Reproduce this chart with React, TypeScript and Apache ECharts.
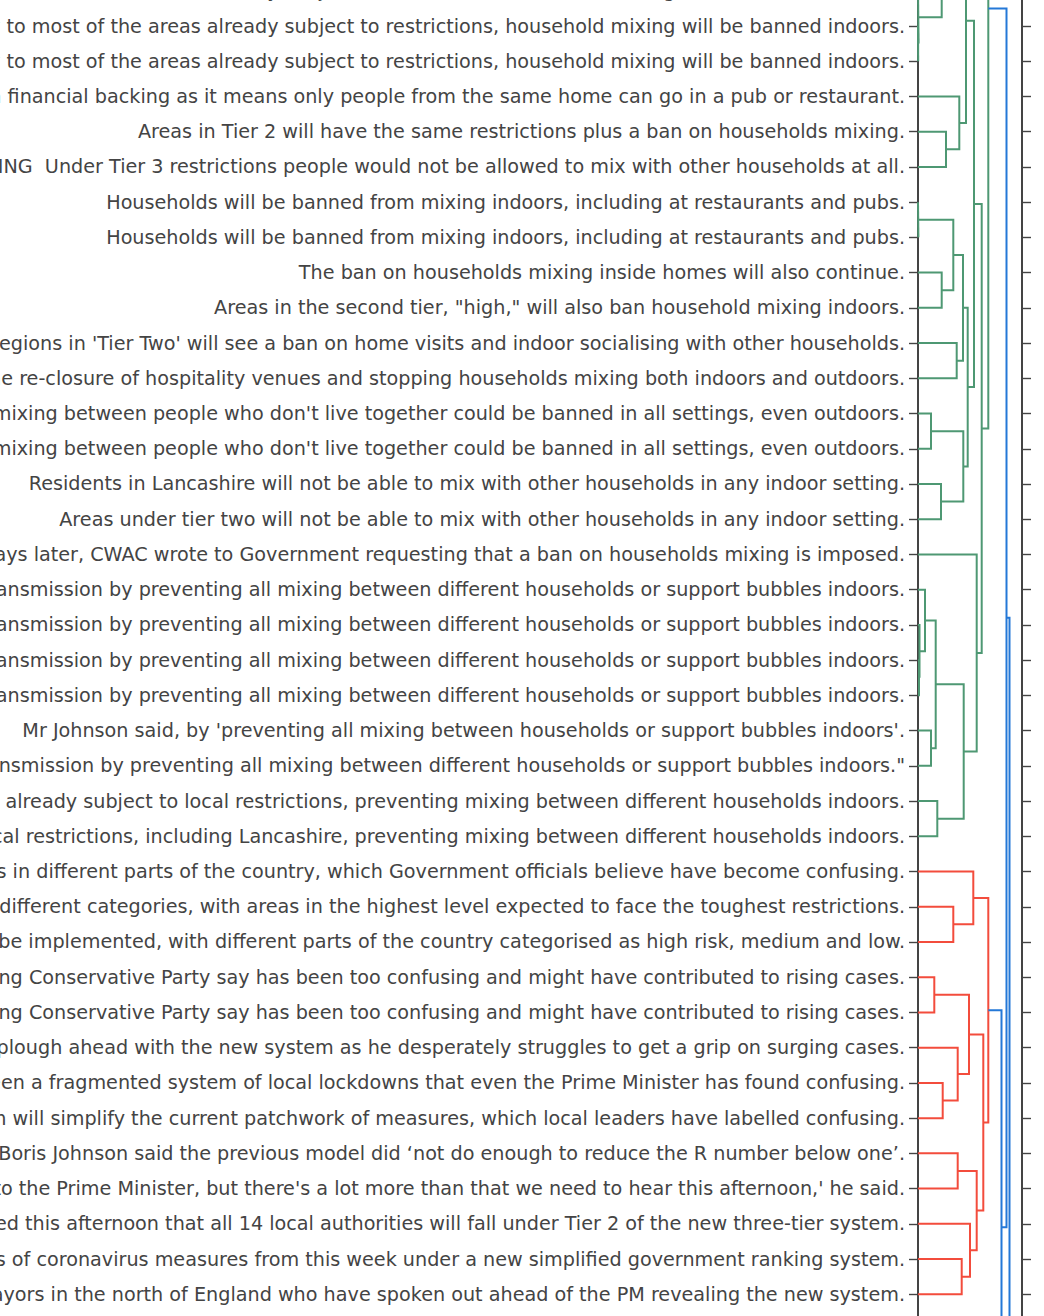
import React, { useEffect, useRef } from "react";
import * as echarts from "echarts";

// Leaf labels, top to bottom; first entry is row -1 (just above the visible window)
const firstLeafRow = -1;
const leafLabels: string[] = [
  "In the 'high' tier, which will apply to most of the areas already subject to restrictions, household mixing will be banned indoors.",
  "In the 'high' tier, which will apply to most of the areas already subject to restrictions, household mixing will be banned indoors.",
  "In the 'high' tier, which will apply to most of the areas already subject to restrictions, household mixing will be banned indoors.",
  "The top tier will be given financial backing as it means only people from the same home can go in a pub or restaurant.",
  "Areas in Tier 2 will have the same restrictions plus a ban on households mixing.",
  "LOCAL LOCKDOWN WARNING  Under Tier 3 restrictions people would not be allowed to mix with other households at all.",
  "Households will be banned from mixing indoors, including at restaurants and pubs.",
  "Households will be banned from mixing indoors, including at restaurants and pubs.",
  "The ban on households mixing inside homes will also continue.",
  "Areas in the second tier, \"high,\" will also ban household mixing indoors.",
  "Regions in 'Tier Two' will see a ban on home visits and indoor socialising with other households.",
  "Tier three could mean the re-closure of hospitality venues and stopping households mixing both indoors and outdoors.",
  "In the highest tier, mixing between people who don't live together could be banned in all settings, even outdoors.",
  "In the highest tier, mixing between people who don't live together could be banned in all settings, even outdoors.",
  "Residents in Lancashire will not be able to mix with other households in any indoor setting.",
  "Areas under tier two will not be able to mix with other households in any indoor setting.",
  "Two days later, CWAC wrote to Government requesting that a ban on households mixing is imposed.",
  "The measures will help to reduce transmission by preventing all mixing between different households or support bubbles indoors.",
  "The measures will help to reduce transmission by preventing all mixing between different households or support bubbles indoors.",
  "The measures will help to reduce transmission by preventing all mixing between different households or support bubbles indoors.",
  "The measures will help to reduce transmission by preventing all mixing between different households or support bubbles indoors.",
  "Mr Johnson said, by 'preventing all mixing between households or support bubbles indoors'.",
  "\"The measures will help to reduce transmission by preventing all mixing between different households or support bubbles indoors.\"",
  "It will apply to the areas already subject to local restrictions, preventing mixing between different households indoors.",
  "It will apply to areas already under local restrictions, including Lancashire, preventing mixing between different households indoors.",
  "There are currently a range of rules in different parts of the country, which Government officials believe have become confusing.",
  "Areas will be split into three different categories, with areas in the highest level expected to face the toughest restrictions.",
  "A three-tier system will be implemented, with different parts of the country categorised as high risk, medium and low.",
  "It replaces rules which critics including members of the ruling Conservative Party say has been too confusing and might have contributed to rising cases.",
  "It replaces rules which critics including members of the ruling Conservative Party say has been too confusing and might have contributed to rising cases.",
  "The Prime Minister will plough ahead with the new system as he desperately struggles to get a grip on surging cases.",
  "It will replace what has been a fragmented system of local lockdowns that even the Prime Minister has found confusing.",
  "The three-tier system will simplify the current patchwork of measures, which local leaders have labelled confusing.",
  "Boris Johnson said the previous model did ‘not do enough to reduce the R number below one’.",
  "'We will be listening to the Prime Minister, but there's a lot more than that we need to hear this afternoon,' he said.",
  "It is expected to be confirmed this afternoon that all 14 local authorities will fall under Tier 2 of the new three-tier system.",
  "Areas will face different levels of coronavirus measures from this week under a new simplified government ranking system.",
  "It comes after criticism from mayors in the north of England who have spoken out ahead of the PM revealing the new system.",
];

// Sub-trees lying outside the visible window: [leaf-position, merge height]
const outsideNodes: Record<string, [number, number]> = {
  OA: [-5.85, 0.15],
  OB: [-12.42, 0.62],
  OC: [40.26, 0.75],
  OD: [45, 0.88],
};

// Merges: [id, child A, child B, height, colour group]
const greenMerges: [string, string, string, number, string][] = [
  ["a1", "L0", "L1", 0.002, "g"],
  ["a2", "L-1", "a1", 0.006, "g"],
  ["a3", "OA", "a2", 0.237, "g"],
  ["a4", "L3", "L4", 0.28, "g"],
  ["a5", "L2", "a4", 0.413, "g"],
  ["a6", "a3", "a5", 0.48, "g"],
  ["a7", "L5", "L6", 0.004, "g"],
  ["a8", "L7", "L8", 0.237, "g"],
  ["a9", "a7", "a8", 0.353, "g"],
  ["a10", "L9", "L10", 0.387, "g"],
  ["a11", "a9", "a10", 0.45, "g"],
  ["a12", "L11", "L12", 0.13, "g"],
  ["a13", "L13", "L14", 0.23, "g"],
  ["a14", "a12", "a13", 0.453, "g"],
  ["a15", "a11", "a14", 0.497, "g"],
  ["a16", "a6", "a15", 0.56, "g"],
  ["b1", "L18", "L19", 0.01, "g"],
  ["b2", "L17", "b1", 0.015, "g"],
  ["b3", "L16", "b2", 0.07, "g"],
  ["b4", "L20", "L21", 0.13, "g"],
  ["b5", "b3", "b4", 0.177, "g"],
  ["b6", "L22", "L23", 0.193, "g"],
  ["b7", "b5", "b6", 0.457, "g"],
  ["b8", "L15", "b7", 0.587, "g"],
  ["b9", "a16", "b8", 0.637, "g"],
  ["b10", "OB", "b9", 0.703, "g"],
];
const redMerges: [string, string, string, number, string][] = [
  ["c1", "L25", "L26", 0.353, "r"],
  ["c2", "L24", "c1", 0.553, "r"],
  ["c3", "L27", "L28", 0.163, "r"],
  ["c4", "L30", "L31", 0.247, "r"],
  ["c5", "L29", "c4", 0.397, "r"],
  ["c6", "c3", "c5", 0.51, "r"],
  ["c7", "L32", "L33", 0.397, "r"],
  ["c8", "L35", "L36", 0.437, "r"],
  ["c9", "L34", "c8", 0.52, "r"],
  ["c10", "c7", "c9", 0.587, "r"],
  ["c11", "c6", "c10", 0.653, "r"],
  ["c12", "c2", "c11", 0.703, "r"],
];
const blueMerges: [string, string, string, number, string][] = [
  ["d1", "c12", "OC", 0.835, "b"],
  ["d2", "b10", "d1", 0.885, "b"],
  ["d3", "d2", "OD", 0.915, "b"],
];

const groupColors: Record<string, string> = {
  g: "rgb(78,152,115)",
  r: "rgb(243,76,60)",
  b: "rgb(36,120,215)",
};

const yMin = -14;
const yMax = 48;
const xMax = 1.04;

function labelFor(v: number): string {
  const i = Math.round(v) - firstLeafRow;
  return i >= 0 && i < leafLabels.length ? leafLabels[i] : "";
}

function buildLinks() {
  const nodes: Record<string, { y: number; h: number }> = {};
  leafLabels.forEach((_, i) => {
    nodes["L" + (i + firstLeafRow)] = { y: i + firstLeafRow, h: 0 };
  });
  Object.keys(outsideNodes).forEach((k) => {
    nodes[k] = { y: outsideNodes[k][0], h: outsideNodes[k][1] };
  });
  const links: { coords: number[][]; color: string }[] = [];
  [...greenMerges, ...redMerges, ...blueMerges].forEach(([id, a, b, h, g]) => {
    const na = nodes[a];
    const nb = nodes[b];
    links.push({
      coords: [
        [na.h, na.y],
        [h, na.y],
        [h, nb.y],
        [nb.h, nb.y],
      ],
      color: groupColors[g],
    });
    nodes[id] = { y: (na.y + nb.y) / 2, h };
  });
  return links;
}

// Layout (page pixels)
const offsetLeft = 500;
const offsetTop = 500;
const axisLeftX = 918;
const axisRightX = 1022;
const rowPx = 35.23;
const row0Y = 26;

export default function App() {
  const ref = useRef<HTMLDivElement>(null);
  const gridTop = row0Y + yMin * rowPx + offsetTop;
  const gridHeight = (yMax - yMin) * rowPx;
  const containerW = offsetLeft + 1044 + 60;
  const containerH = gridTop + gridHeight + 60;

  useEffect(() => {
    if (!ref.current) return;
    const chart = echarts.init(ref.current, undefined, { renderer: "svg" });
    const links = buildLinks();
    const yAxisBase = {
      type: "value",
      inverse: true,
      min: yMin,
      max: yMax,
      interval: 1,
      splitLine: { show: false },
      axisLine: { show: true, onZero: false, lineStyle: { color: "#444", width: 2 } },
      axisTick: { show: true, inside: false, length: 9, lineStyle: { color: "#444", width: 1.4 } },
    };
    chart.setOption({
      animation: false,
      backgroundColor: "#fff",
      grid: {
        left: axisLeftX + offsetLeft,
        width: axisRightX - axisLeftX,
        top: gridTop,
        height: gridHeight,
        containLabel: false,
        outerBoundsMode: "none",
      },
      xAxis: { type: "value", min: 0, max: xMax, show: false },
      yAxis: [
        {
          ...yAxisBase,
          position: "left",
          axisLabel: {
            show: true,
            margin: 13,
            color: "#444",
            fontFamily: "DejaVu Sans",
            fontSize: 19.2,
            hideOverlap: false,
            formatter: (v: number) => labelFor(v),
          },
        },
        { ...yAxisBase, position: "right", axisLabel: { show: false } },
      ],
      series: links.map((l) => ({
        type: "line",
        data: l.coords,
        symbol: "none",
        silent: true,
        lineStyle: { color: l.color, width: 2, join: "miter", cap: "butt" },
        z: 3,
      })),
    });
    return () => chart.dispose();
  }, []);

  return (
    <div
      style={{
        position: "fixed",
        left: 0,
        top: 0,
        width: 1044,
        height: 1316,
        overflow: "hidden",
        background: "#fff",
      }}
    >
      <div
        ref={ref}
        style={{
          position: "absolute",
          left: -offsetLeft,
          top: -offsetTop,
          width: containerW,
          height: containerH,
        }}
      />
    </div>
  );
}
